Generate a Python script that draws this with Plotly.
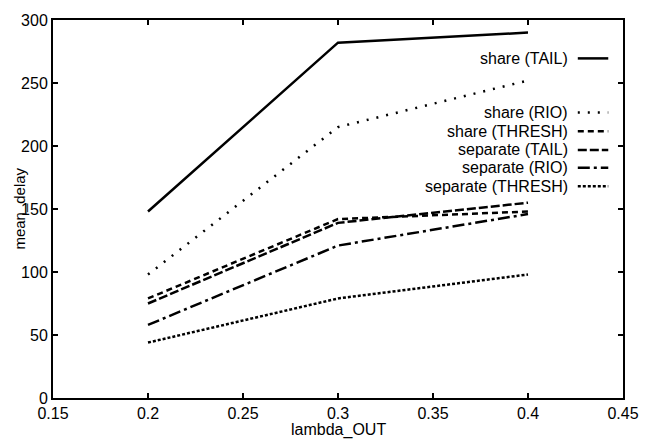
import plotly.graph_objects as go

x_vals = [0.2, 0.3, 0.4]
share_tail = [148, 282, 290]
share_rio = [98, 215, 252]
share_thresh = [79, 142, 148]
separate_tail = [75, 139, 155]
separate_rio = [58, 121, 146]
separate_thresh = [44, 79, 98]

names = ["share (TAIL)", "share (RIO)", "share (THRESH)",
         "separate (TAIL)", "separate (RIO)", "separate (THRESH)"]
series = [share_tail, share_rio, share_thresh, separate_tail, separate_rio, separate_thresh]
dashes = ["solid", "2px 8px", "6px 4px", "9px 3px", "12px 4px 3px 4px", "3px 2px"]
legend_y = [53, 108, 127, 146, 164, 183]  # pixel rows of legend entries

W, H = 651, 441
L, R, T, B = 53, 18, 14, 43

fig = go.Figure()
for name, ys, d in zip(names, series, dashes):
    fig.add_trace(go.Scatter(x=x_vals, y=ys, mode="lines", name=name,
                             line=dict(color="black", width=2.5, dash=d),
                             showlegend=False))

font = dict(family="Liberation Sans, Arial, sans-serif", size=16, color="black")
pw = W - L - R
ph = H - T - B
for name, yp, d in zip(names, legend_y, dashes):
    yf = 1 - (yp - T) / ph
    x1 = (618 - L) / pw
    x0 = (587 - L) / pw
    fig.add_shape(type="line", xref="paper", yref="paper", x0=x0, x1=x1, y0=yf, y1=yf,
                  line=dict(color="black", width=2.5, dash=d))
    fig.add_annotation(xref="paper", yref="paper", x=(579 - L) / pw, y=yf, text=name,
                       showarrow=False, xanchor="right", yanchor="middle", font=font)

fig.add_annotation(xref="paper", yref="paper", x=-(L - 18) / pw, y=0.5, text="mean_delay",
                   textangle=-90, showarrow=False, xanchor="center", yanchor="middle",
                   font=dict(family=font["family"], size=15, color="black"))
fig.add_annotation(xref="paper", yref="paper", x=0.5, y=-(431 - T - ph) / ph, text="lambda_OUT",
                   showarrow=False, xanchor="center", yanchor="middle", font=font)

axis_common = dict(showgrid=False, zeroline=False, showline=True, linecolor="black",
                   linewidth=2, mirror="ticks", ticks="inside", ticklen=5, tickwidth=2,
                   tickcolor="black", tickfont=font)
fig.update_xaxes(range=[0.15, 0.45], tickvals=[0.15, 0.2, 0.25, 0.3, 0.35, 0.4, 0.45],
                 ticktext=["0.15", "0.2", "0.25", "0.3", "0.35", "0.4", "0.45"], **axis_common)
fig.update_yaxes(range=[0, 300], tickvals=[0, 50, 100, 150, 200, 250, 300], **axis_common)

fig.update_layout(width=W, height=H, margin=dict(l=L, r=R, t=T, b=B),
                  paper_bgcolor="white", plot_bgcolor="white", font=font)
fig.write_html("out.html")
